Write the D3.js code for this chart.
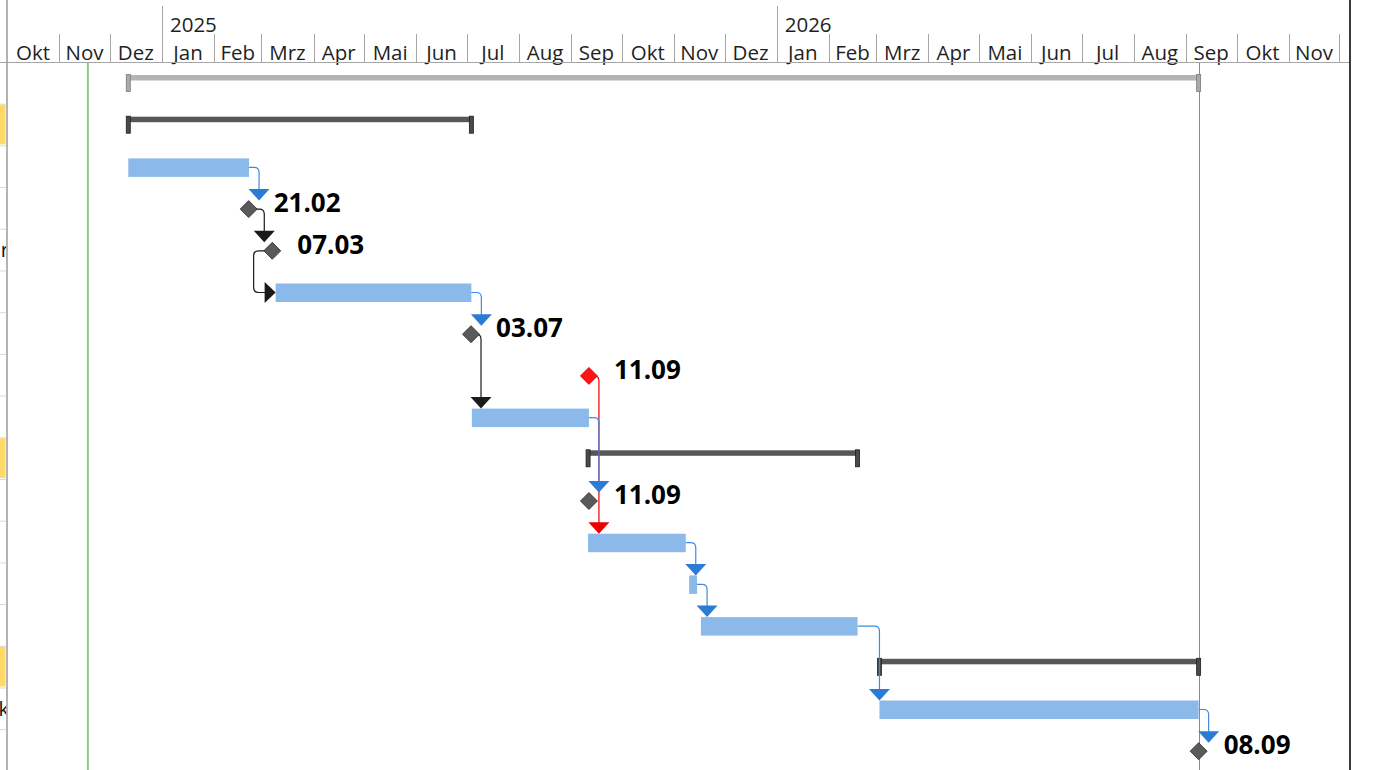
<!DOCTYPE html>
<html><head><meta charset="utf-8">
<script src="https://cdn.jsdelivr.net/npm/d3@7"></script>
<style>html,body{margin:0;padding:0;background:#fff;overflow:hidden}</style>
</head><body>
<svg id="chart" width="1376" height="770"></svg>
<script>
// ---------- data ----------
const rowTypes  = ["project","summary","task","milestone","milestone","task","milestone","milestone","task","summary","milestone","task","task","task","summary","task","milestone"];
const rowStarts = ["2024-12-12T00:00","2024-12-12T00:00","2024-12-12T00:00","2025-02-21T12:00","2025-03-07T12:00","2025-03-09T12:00","2025-07-03T12:00","2025-09-11T12:00","2025-07-04T00:00","2025-09-11T00:00","2025-09-11T12:00","2025-09-11T00:00","2025-11-10T00:00","2025-11-17T00:00","2026-03-03T00:00","2026-03-03T00:00","2026-09-08T12:00"];
const rowEnds   = ["2026-09-08T12:00","2025-07-03T17:00","2025-02-21T17:00","2025-02-21T12:00","2025-03-07T12:00","2025-07-03T17:00","2025-07-03T12:00","2025-09-11T12:00","2025-09-11T12:00","2026-02-18T00:00","2025-09-11T12:00","2025-11-08T00:00","2025-11-14T17:00","2026-02-18T00:00","2026-09-08T12:00","2026-09-08T12:00","2026-09-08T12:00"];
const rowLabels = ["","","","21.02","07.03","","03.07","11.09","","","11.09","","","","","","08.09"];
const rowCritical = [false,false,false,false,false,false,false,true,false,false,false,false,false,false,false,false,false];
const tableFragments = [{row:4, text:"r"}, {row:15, text:"k"}];

const linkFrom  = [2,3,4,5,6,7,8,11,12,13,15];
const linkTo    = [3,4,5,6,8,11,10,12,13,15,16];
const linkKind  = ["blue","black","black","blue","black","red","blue","blue","blue","blue","blue"];
const linkRoute = ["down","down","around","down","down","down","down","down","down","down","down"];

const yearLabels = ["2025","2026"];
const monthNames = ["Jan","Feb","Mrz","Apr","Mai","Jun","Jul","Aug","Sep","Okt","Nov","Dez"];
const todayDate = "2024-11-18T00:00";
const finishDate = "2026-09-08T12:00";

// ---------- setup ----------
const W = 1376, H = 770;
const chartLeft = 7, chartRight = 1350, headerBottom = 62;
const FONT = "'Open Sans','Segoe UI',sans-serif";
const parse = s => new Date(s);
const x = d3.scaleTime().domain([new Date(2024,9,1), new Date(2026,8,1)]).range([7, 1186]);
const rowTop = d3.scaleLinear().domain([0,1]).range([headerBottom, headerBottom + 41.7]);
const colors = {blue:"#2b7bd5", black:"#1a1a1a", red:"#ee0000"};
const lineColors = {blue:"#3d8be0", black:"#1a1a1a", red:"#e60000"};

const svg = d3.select("#chart");
const defs = svg.append("defs");
defs.append("clipPath").attr("id","clipChart").append("rect")
  .attr("x", chartLeft+1).attr("y", 0).attr("width", chartRight - chartLeft - 1).attr("height", H);
defs.append("clipPath").attr("id","clipTable").append("rect")
  .attr("x", 0).attr("y", 0).attr("width", chartLeft - 1).attr("height", H);

// ---------- left table strip ----------
const table = svg.append("g").attr("clip-path","url(#clipTable)");
d3.range(rowTypes.length).forEach(i => {
  if (rowTypes[i] === "summary") {
    table.append("rect").attr("x",0).attr("y",rowTop(i)+1).attr("width",5.5)
      .attr("height",rowTop(i+1)-rowTop(i)-2).attr("fill","#ffd966");
  }
  table.append("line").attr("x1",0).attr("x2",chartLeft).attr("y1",rowTop(i+1)+0.5).attr("y2",rowTop(i+1)+0.5)
    .attr("stroke","#d9d9d9");
});
tableFragments.forEach(f => {
  table.append("text").attr("x",9).attr("y",rowTop(f.row)+28).attr("text-anchor","end")
    .attr("font-family",FONT).attr("font-size",20).attr("fill","#111").text(f.text);
});

// ---------- header ----------
const hdr = svg.append("g").attr("clip-path","url(#clipChart)");
const months = d3.timeMonth.range(new Date(2024,9,1), new Date(2027,0,1));
months.forEach(m => {
  const xm = Math.round(x(m)) + 0.5;
  const isYear = m.getMonth() === 0;
  hdr.append("line").attr("x1",xm).attr("x2",xm).attr("y1", isYear ? 6 : 34).attr("y2",headerBottom)
    .attr("stroke","#a6a6a6").attr("stroke-width",1);
  const xn = x(d3.timeMonth.offset(m,1));
  hdr.append("text").attr("x",(x(m)+xn)/2).attr("y",59.5).attr("text-anchor","middle")
    .attr("font-family",FONT).attr("font-size",20.5).attr("fill","#1f1f1f").text(monthNames[m.getMonth()]);
  if (isYear) {
    const yi = m.getFullYear() - 2025;
    if (yi >= 0 && yi < yearLabels.length)
      hdr.append("text").attr("x",x(m)+8).attr("y",31.5).attr("font-family",FONT).attr("font-size",20.5)
        .attr("fill","#1f1f1f").text(yearLabels[yi]);
  }
});
svg.append("line").attr("x1",0).attr("x2",chartRight).attr("y1",headerBottom+0.5).attr("y2",headerBottom+0.5)
  .attr("stroke","#a6a6a6");

// ---------- body ----------
const body = svg.append("g").attr("clip-path","url(#clipChart)");
body.append("line").attr("x1",x(parse(todayDate))).attr("x2",x(parse(todayDate)))
  .attr("y1",headerBottom+1).attr("y2",H).attr("stroke","#8cc98c").attr("stroke-width",2);
body.append("line").attr("x1",Math.round(x(parse(finishDate)))+0.5).attr("x2",Math.round(x(parse(finishDate)))+0.5)
  .attr("y1",headerBottom+1).attr("y2",H).attr("stroke","#8a8a8a").attr("stroke-width",1);

const rows = d3.range(rowTypes.length).map(i => ({
  i, type: rowTypes[i], x0: x(parse(rowStarts[i])), x1: x(parse(rowEnds[i])),
  top: rowTop(i), label: rowLabels[i], crit: rowCritical[i]
}));

// summary bars
rows.filter(r => r.type === "summary" || r.type === "project").forEach(r => {
  const proj = r.type === "project";
  body.append("rect").attr("x",r.x0).attr("y",r.top+13).attr("width",r.x1-r.x0).attr("height",5.5)
    .attr("fill", proj ? "#b4b4b4" : "#575757");
  [r.x0, r.x1].forEach(cx => {
    body.append("rect").attr("x",cx-2).attr("y",r.top+12.5).attr("width",4).attr("height",17)
      .attr("fill", proj ? "#aaaaaa" : "#4a4a4a").attr("stroke", proj ? "#7a7a7a" : "#1e1e1e").attr("stroke-width",0.8);
  });
});
// task bars
rows.filter(r => r.type === "task").forEach(r => {
  body.append("rect").attr("x",r.x0).attr("y",r.top+13).attr("width",r.x1-r.x0).attr("height",18.5)
    .attr("fill","#8bbaea");
});

// links
const mid = r => r.top + 22;
const rad = 5;
linkFrom.forEach((f, k) => {
  const a = rows[f], b = rows[linkTo[k]];
  const kind = linkKind[k];
  const fx = a.type === "milestone" ? a.x0 : a.x1;
  const fy = mid(a);
  const g = body.append("g");
  if (linkRoute[k] === "down") {
    const vx = Math.max(fx + 10, b.type === "milestone" ? b.x0 - 8 : b.x0);
    const tipY = b.type === "milestone" ? mid(b) - 8.5 : b.top + 13;
    const p = `M${fx},${fy} H${vx-rad} Q${vx},${fy} ${vx},${fy+rad} V${tipY-10}`;
    g.append("path").attr("d",p).attr("fill","none").attr("stroke",lineColors[kind]).attr("stroke-width",1.2);
    g.append("path").attr("d",`M${vx-10.5},${tipY-11.5} L${vx+10.5},${tipY-11.5} L${vx},${tipY} Z`)
      .attr("fill",colors[kind]);
  } else {
    const vx = b.x0 - 22;
    const ty = mid(b);
    const p = `M${fx},${fy} H${vx+rad} Q${vx},${fy} ${vx},${fy+rad} V${ty-rad} Q${vx},${ty} ${vx+rad},${ty} H${b.x0-10}`;
    g.append("path").attr("d",p).attr("fill","none").attr("stroke",lineColors[kind]).attr("stroke-width",1.2);
    g.append("path").attr("d",`M${b.x0-11},${ty-10.5} L${b.x0-11},${ty+10.5} L${b.x0},${ty} Z`)
      .attr("fill",colors[kind]);
  }
});

// milestones
rows.filter(r => r.type === "milestone").forEach(r => {
  const cy = mid(r), s = 8.5;
  body.append("path").attr("d",`M${r.x0},${cy-s} L${r.x0+s},${cy} L${r.x0},${cy+s} L${r.x0-s},${cy} Z`)
    .attr("fill", r.crit ? "#ff1414" : "#5a5a5a").attr("stroke", r.crit ? "#c00000" : "#2a2a2a").attr("stroke-width",0.8);
  body.append("text").attr("x",r.x0+25).attr("y",cy+3).attr("font-family",FONT).attr("font-weight","bold")
    .attr("font-size",26).attr("fill","#000").text(r.label);
});

// borders
svg.append("line").attr("x1",chartLeft).attr("x2",chartLeft).attr("y1",0).attr("y2",H)
  .attr("stroke","#9a9a9a").attr("stroke-width",1.5);
svg.append("line").attr("x1",chartRight).attr("x2",chartRight).attr("y1",0).attr("y2",H)
  .attr("stroke","#3a3a3a").attr("stroke-width",2);
</script>
</body></html>
